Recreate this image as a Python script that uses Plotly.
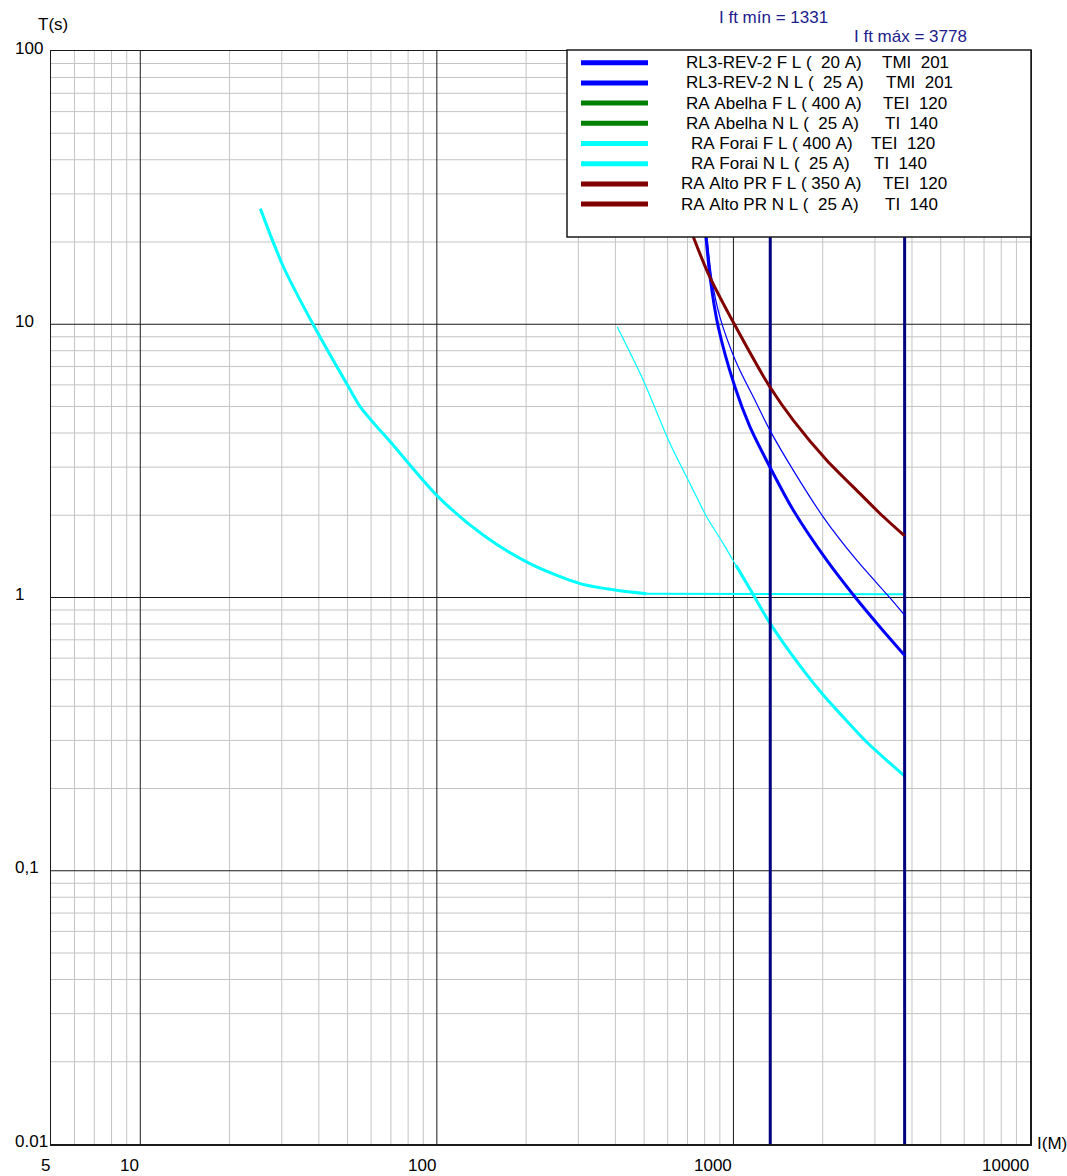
import math
import plotly.graph_objects as go

# ---------------- data ----------------
# RL3-REV-2 F L (thick blue)
rl3_f_i = [808, 834, 889, 1012, 1137, 1328, 1592, 2063, 2570, 3119, 3778]
rl3_f_t = [20.9, 14.9, 9.77, 5.89, 4.21, 3.0, 2.085, 1.369, 1.004, 0.78, 0.614]
# RL3-REV-2 N L (thin blue)
rl3_n_i = [815, 847, 901, 1026, 1182, 1328, 1592, 2009, 2604, 3328, 3778]
rl3_n_t = [20.8, 14.5, 10.6, 7.18, 5.27, 4.09, 2.92, 1.97, 1.369, 1.013, 0.861]
# RA Forai N L (25 A)
forai_n_i = [25.4, 30.4, 38.4, 50.4, 55.1, 71.4, 101.3, 143.6, 206, 304, 404, 510, 3778]
forai_n_t = [26.5, 16.2, 9.91, 5.89, 5.0, 3.6, 2.33, 1.69, 1.331, 1.124, 1.063, 1.033, 1.027]
# RA Forai F L (400 A)
forai_f_i = [406, 497, 611, 714, 813, 924, 1020, 1153, 1321, 1720, 2036, 2346, 2813, 3287, 3778]
forai_f_t = [9.77, 6.23, 3.66, 2.61, 1.97, 1.575, 1.311, 1.047, 0.813, 0.542, 0.432, 0.365, 0.296, 0.2537, 0.222]
# RA Alto PR F L (350 A)
alto_f_i = [732, 823, 1012, 1328, 1592, 2063, 2672, 3119, 3778]
alto_f_t = [20.9, 15.3, 9.91, 5.89, 4.45, 3.18, 2.40, 2.03, 1.68]

# fault current limits
ift_min = 1331
ift_max = 3778

# legend entries
legend_names = ["RL3-REV-2 F L (  20 A)", "RL3-REV-2 N L (  25 A)",
                "RA Abelha F L ( 400 A)", "RA Abelha N L (  25 A)",
                "RA Forai F L ( 400 A)", "RA Forai N L (  25 A)",
                "RA Alto PR F L ( 350 A)", "RA Alto PR N L (  25 A)"]
legend_types = ["TMI  201", "TMI  201", "TEI  120", "TI  140",
                "TEI  120", "TI  140", "TEI  120", "TI  140"]

# axis tick labels
x_ticks = [5, 10, 100, 1000, 10000]
x_tick_text = ["5", "10", "100", "1000", "10000"]
y_ticks = [100, 10, 1, 0.1, 0.01]
y_tick_text = ["100", "10", "1", "0,1", "0.01"]

# ---------------- styles / layout ----------------
BLUE = "#0000FF"
GREEN = "#008000"
CYAN = "#00FFFF"
DRED = "#800000"
NAVY = "#000080"
TITLE_C = "#1c1c8c"
GRID_MAJOR = "#1a1a1a"
GRID_MINOR = "#c4c4c4"
FONT = "Liberation Sans, Arial, sans-serif"
legend_colors = [BLUE, BLUE, GREEN, GREEN, CYAN, CYAN, DRED, DRED]

W, H = 1067, 1176
ML, MR, MT, MB = 51, 37, 51, 32
PW = W - ML - MR
PH = H - MT - MB
XLO, XHI = math.log10(5), 4.0
YLO, YHI = -2.0, 2.0

fig = go.Figure()


def add_line(xs, ys, color, width, smooth=True):
    fig.add_trace(go.Scatter(x=xs, y=ys, mode="lines",
                             line=dict(color=color, width=width,
                                       shape="spline" if smooth else "linear",
                                       smoothing=0.8),
                             showlegend=False, hoverinfo="skip"))


def split(xs, ys, cond):
    px = [a for a, b in zip(xs, ys) if cond(a)]
    py = [b for a, b in zip(xs, ys) if cond(a)]
    return px, py


# cyan curves
xa, ya = split(forai_n_i, forai_n_t, lambda v: v <= 510)
add_line(xa, ya, CYAN, 3)
xa, ya = split(forai_n_i, forai_n_t, lambda v: v >= 510)
add_line(xa, ya, CYAN, 2, smooth=False)
xa, ya = split(forai_f_i, forai_f_t, lambda v: v <= 1153)
add_line(xa, ya, CYAN, 1.2)
xa, ya = split(forai_f_i, forai_f_t, lambda v: v >= 1020)
add_line(xa, ya, CYAN, 3)

# vertical fault-current lines
for v in (ift_min, ift_max):
    add_line([v, v], [0.01, 100], NAVY, 3, smooth=False)

# blue + red
add_line(rl3_n_i, rl3_n_t, BLUE, 1.2)
add_line(rl3_f_i, rl3_f_t, BLUE, 3)
add_line(alto_f_i, alto_f_t, DRED, 3)

axis_common = dict(type="log", showgrid=False, showticklabels=False, ticks="",
                   zeroline=False, showline=True, linecolor=GRID_MAJOR,
                   linewidth=1.5, mirror=True, fixedrange=True)
fig.update_xaxes(range=[XLO, XHI], **axis_common)
fig.update_yaxes(range=[YLO, YHI], **axis_common)


def fx(v):
    return (math.log10(v) - XLO) / (XHI - XLO)


def fy(v):
    return (math.log10(v) - YLO) / (YHI - YLO)


def px2paper_x(px):
    return (px - ML) / PW


def px2paper_y(py):
    return 1 - (py - MT) / PH


shapes = []
# grid lines (minor first, then major)
for dec in range(0, 4):
    for m in range(2, 10):
        v = m * 10 ** dec
        if 5 < v < 10000:
            shapes.append(dict(type="line", xref="paper", yref="paper", x0=fx(v), x1=fx(v),
                               y0=0, y1=1, line=dict(color=GRID_MINOR, width=1), layer="below"))
for dec in range(-2, 2):
    for m in range(2, 10):
        v = m * 10.0 ** dec
        shapes.append(dict(type="line", xref="paper", yref="paper", x0=0, x1=1,
                           y0=fy(v), y1=fy(v), line=dict(color=GRID_MINOR, width=1), layer="below"))
for v in (10, 100, 1000):
    shapes.append(dict(type="line", xref="paper", yref="paper", x0=fx(v), x1=fx(v),
                       y0=0, y1=1, line=dict(color=GRID_MAJOR, width=1), layer="below"))
for v in (10, 1, 0.1):
    shapes.append(dict(type="line", xref="paper", yref="paper", x0=0, x1=1,
                       y0=fy(v), y1=fy(v), line=dict(color=GRID_MAJOR, width=1), layer="below"))

ann = []
for v, t in zip(x_ticks, x_tick_text):
    ann.append(dict(x=fx(v), xref="paper", y=0, yref="paper", text=t,
                    showarrow=False, xanchor="right", yanchor="middle",
                    yshift=-21, xshift=1, font=dict(size=17, color="black", family=FONT)))
for v, t in zip(y_ticks, y_tick_text):
    ann.append(dict(x=0, xref="paper", y=fy(v), yref="paper", text=t,
                    showarrow=False, xanchor="left", yanchor="middle",
                    xshift=13 - ML, yshift=3, font=dict(size=17, color="black", family=FONT)))
ann.append(dict(x=0, xref="paper", y=1, yref="paper", text="T(s)", showarrow=False,
                xanchor="left", yanchor="middle", xshift=36 - ML, yshift=MT - 24,
                font=dict(size=17, color="black", family=FONT)))
ann.append(dict(x=1, xref="paper", y=0, yref="paper", text="I(M)", showarrow=False,
                xanchor="left", yanchor="middle", xshift=5, yshift=1,
                font=dict(size=17, color="black", family=FONT)))
ann.append(dict(x=fx(ift_min), xref="paper", y=1, yref="paper",
                text=f"I ft mín = {ift_min}", showarrow=False, xanchor="center",
                yanchor="middle", xshift=3, yshift=MT - 17,
                font=dict(size=17, color=TITLE_C, family=FONT)))
ann.append(dict(x=fx(ift_max), xref="paper", y=1, yref="paper",
                text=f"I ft máx = {ift_max}", showarrow=False, xanchor="center",
                yanchor="middle", xshift=6, yshift=MT - 36,
                font=dict(size=17, color=TITLE_C, family=FONT)))

# legend box
shapes.append(dict(type="rect", xref="paper", yref="paper",
                   x0=px2paper_x(567), x1=px2paper_x(1031),
                   y0=px2paper_y(237), y1=px2paper_y(50),
                   fillcolor="white", line=dict(color=GRID_MAJOR, width=1.5),
                   layer="above"))
row_y = [62.7 + 20.2 * k for k in range(len(legend_names))]
name_left = [684, 684, 684, 684, 689, 689, 679, 679]
type_left = [880, 884, 881, 883, 869, 872, 881, 883]
for k, (nm, tp, col) in enumerate(zip(legend_names, legend_types, legend_colors)):
    yy = px2paper_y(row_y[k])
    shapes.append(dict(type="line", xref="paper", yref="paper",
                       x0=px2paper_x(581), x1=px2paper_x(648), y0=yy, y1=yy,
                       line=dict(color=col, width=5), layer="above"))
    ann.append(dict(x=px2paper_x(name_left[k]), xref="paper", y=yy, yref="paper",
                    text=nm.replace(" ", "\u00a0"), showarrow=False, xanchor="left",
                    yanchor="middle", font=dict(size=17, color="black", family=FONT)))
    ann.append(dict(x=px2paper_x(type_left[k]), xref="paper", y=yy, yref="paper",
                    text=tp.replace(" ", "\u00a0"), showarrow=False, xanchor="left",
                    yanchor="middle", font=dict(size=17, color="black", family=FONT)))

fig.update_layout(width=W, height=H, margin=dict(l=ML, r=MR, t=MT, b=MB),
                  plot_bgcolor="white", paper_bgcolor="white",
                  annotations=ann, shapes=shapes, showlegend=False,
                  hovermode=False, dragmode=False,
                  font=dict(family=FONT, size=17))

fig.write_html("out.html", config={"displayModeBar": False, "staticPlot": True},
               post_script="document.body.style.margin='0px';document.body.style.overflow='hidden';")
